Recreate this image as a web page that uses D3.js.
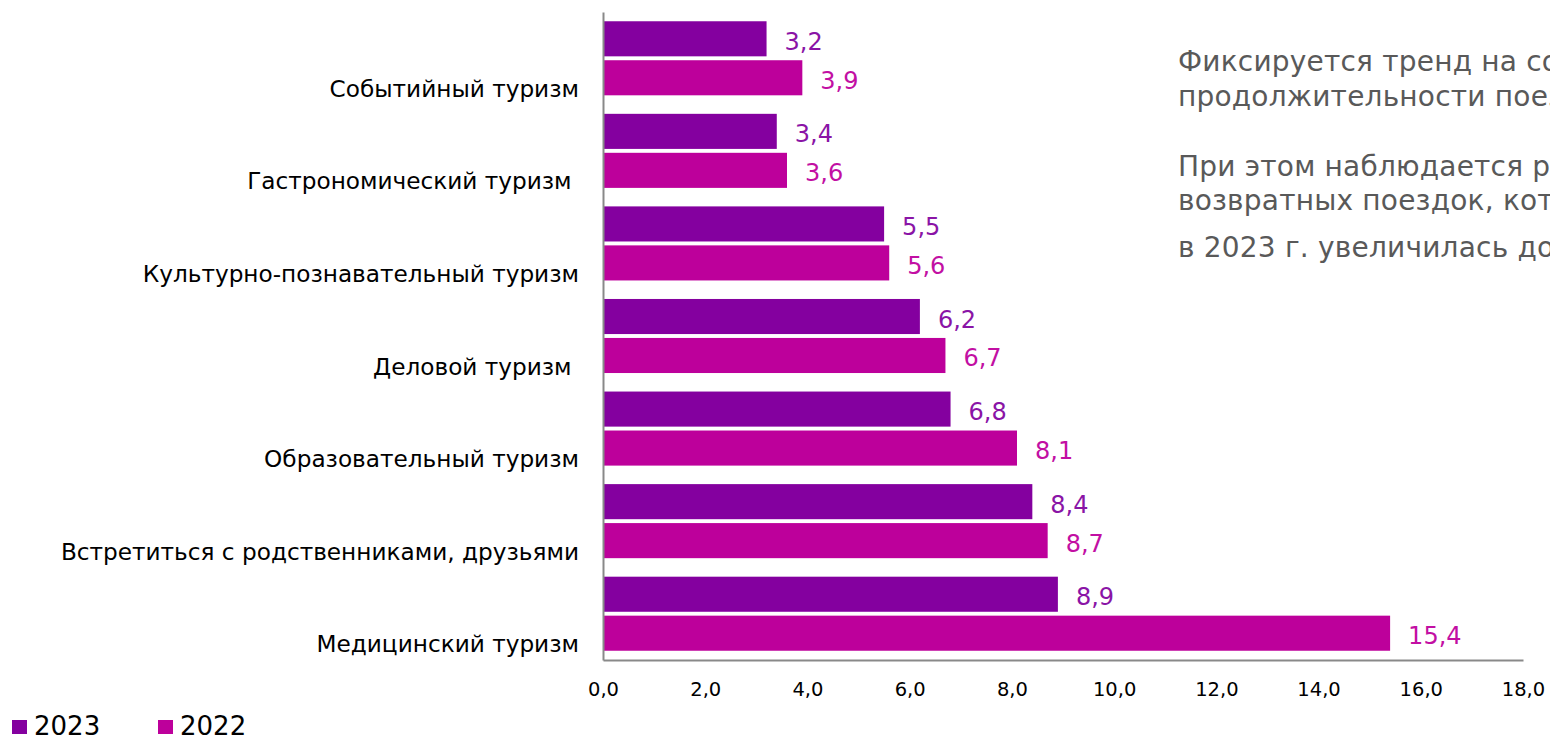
<!DOCTYPE html>
<html><head><meta charset="utf-8">
<script src="https://cdn.jsdelivr.net/npm/d3@7"></script>
<style>
body{margin:0;background:#fff;overflow:hidden}
svg{display:block}
text{font-family:"DejaVu Sans",Verdana,sans-serif}
</style></head>
<body><svg id="c" width="1550" height="739"></svg>
<script>
const categories = ["Событийный туризм","Гастрономический туризм ","Культурно-познавательный туризм","Деловой туризм ","Образовательный туризм","Встретиться с родственниками, друзьями","Медицинский туризм"];
const values2023 = [3.2,3.4,5.5,6.2,6.8,8.4,8.9];
const values2022 = [3.9,3.6,5.6,6.7,8.1,8.7,15.4];
const seriesNames = ["2023","2022"];
const xTicks = [0,2,4,6,8,10,12,14,16,18];
const noteLines = ["Фиксируется тренд на сокращение","продолжительности поездок","","При этом наблюдается рост","возвратных поездок, которая","в 2023 г. увеличилась до"];

const colors = {"2023":"#84009F","2022":"#BD009B"};
const labelColors = {"2023":"#8A14A6","2022":"#C20FA3"};
const svg = d3.select("#c");
const x = d3.scaleLinear().domain([0,18]).range([603,1523]);
const y = d3.scaleBand().domain(categories).range([12,660]).paddingInner(0.2).paddingOuter(0.1);
const ys = d3.scaleBand().domain(seriesNames).range([0,y.bandwidth()]).paddingInner(0.1);

const fmt = v => d3.format(".1f")(v).replace(".",",");

const data = [];
categories.forEach((c,i)=>{
  data.push({cat:c,s:"2023",v:values2023[i]});
  data.push({cat:c,s:"2022",v:values2022[i]});
});

svg.append("g").selectAll("rect").data(data).join("rect")
  .attr("x",x(0)).attr("y",d=>y(d.cat)+ys(d.s))
  .attr("width",d=>x(d.v)-x(0)).attr("height",ys.bandwidth())
  .attr("fill",d=>colors[d.s]);

svg.append("g").selectAll("text").data(data).join("text")
  .attr("x",d=>x(d.v)+18).attr("y",d=>y(d.cat)+ys(d.s)+ys.bandwidth()/2+4)
  .attr("dominant-baseline","middle")
  .attr("font-size",24).attr("fill",d=>labelColors[d.s])
  .text(d=>fmt(d.v));

// axes
const xAxis = d3.axisBottom(x).tickValues(xTicks).tickSize(0).tickPadding(22).tickFormat(fmt);
const gx = svg.append("g").attr("transform","translate(0,660)").call(xAxis);
gx.select(".domain").attr("stroke","#898989").attr("stroke-width",2);
gx.selectAll("text").attr("font-size",19.5).attr("fill","#000").style("font-family","'DejaVu Sans',sans-serif");

const yAxis = d3.axisLeft(y).tickSize(0).tickPadding(24);
const gy = svg.append("g").attr("transform","translate(603,0)").call(yAxis);
gy.select(".domain").attr("stroke","#898989").attr("stroke-width",2);
gy.selectAll("text").attr("font-size",23.2).attr("fill","#000").attr("dy",null)
  .attr("y",y.bandwidth()/2-5).attr("dominant-baseline","middle").style("white-space","pre");

// note
svg.append("g").selectAll("text").data(noteLines).join("text")
  .attr("x",1178).attr("y",(d,i)=>[71,106,141,176,210,257][i])
  .attr("font-size",28).attr("letter-spacing",0.2).attr("fill","#595959").text(d=>d);

// legend
const lg = svg.append("g");
seriesNames.forEach((s,i)=>{
  const lx = [12,158][i];
  lg.append("rect").attr("x",lx).attr("y",720).attr("width",15).attr("height",14).attr("fill",colors[s]);
  lg.append("text").attr("x",lx+22).attr("y",735).attr("font-size",26).attr("fill","#000").text(s);
});
</script></body></html>
